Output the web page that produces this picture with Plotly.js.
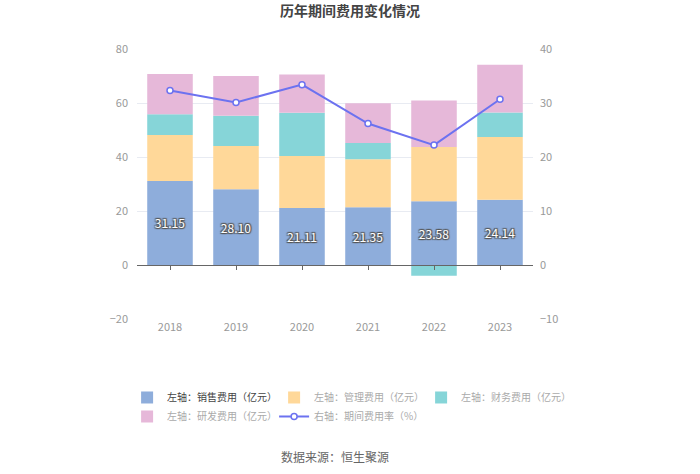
<!DOCTYPE html>
<html><head><meta charset="utf-8">
<script src="https://cdn.plot.ly/plotly-3.0.1.min.js"></script>
<style>html,body{margin:0;padding:0;background:#fff}</style>
</head><body>
<div id="chart" style="width:700px;height:474px"></div>
<script>
const years = ["2018","2019","2020","2021","2022","2023"];
const sales = [31.15, 28.10, 21.11, 21.35, 23.58, 24.14];
const mgmt = [17.0, 16.0, 19.3, 17.8, 20.1, 23.3];
const fin = [7.7, 11.2, 16.0, 6.0, -4.0, 9.0];
const rd = [14.9, 14.7, 14.1, 14.8, 17.2, 17.7];
const rate = [32.3, 30.1, 33.4, 26.2, 22.2, 30.7];
const names = ["左轴：销售费用（亿元）","左轴：管理费用（亿元）","左轴：财务费用（亿元）","左轴：研发费用（亿元）","右轴：期间费用率（%）"];

const font = "'Noto Sans CJK SC', 'Noto Sans', sans-serif";
const bw = 0.69;
const traces = [
  {type:'bar', x:years, y:sales, name:'<span style="color:#444">'+names[0]+'</span>', marker:{color:'#8eaddb'}, width:bw,
   text:sales.map(v=>v.toFixed(2)), textposition:'inside', insidetextanchor:'middle', constraintext:'none',
   textfont:{color:'#ffffff', size:12, family:font, shadow:'1px 1px 1px #555, -1px -1px 1px #555, 1px -1px 1px #555, -1px 1px 1px #555'}},
  {type:'bar', x:years, y:mgmt, name:names[1], marker:{color:'#ffd899'}, width:bw},
  {type:'bar', x:years, y:fin, name:names[2], marker:{color:'#86d5d8'}, width:bw},
  {type:'bar', x:years, y:rd, name:names[3], marker:{color:'#e6b8d9'}, width:bw},
  {type:'scatter', mode:'lines+markers', x:years, y:rate, name:names[4], yaxis:'y2',
   line:{color:'#6c72f0', width:2}, marker:{symbol:'circle', size:6, color:'#ffffff', line:{color:'#6c72f0', width:1.5}}}
];

const layout = {
  width:700, height:474,
  margin:{l:137, r:167, t:49, b:155},
  paper_bgcolor:'#fff', plot_bgcolor:'#fff',
  barmode:'relative', bargap:0.31,
  showlegend:true,
  hovermode:false,
  font:{family:font, color:'#999', size:11},
  title:{text:'<b>历年期间费用变化情况</b>', x:0.5, xanchor:'center', y:0.977, yanchor:'middle', font:{size:14, color:'#444', family:font}},
  xaxis:{type:'category', showgrid:false, zeroline:false, showline:false, ticks:'', tickfont:{color:'#999', size:11}, range:[-0.5,5.5]},
  xaxis2:{type:'category', overlaying:'x', anchor:'free', position:0.2, range:[-0.5,5.5], showgrid:false, zeroline:false,
          showline:true, linecolor:'#666', linewidth:1, ticks:'outside', ticklen:4, tickcolor:'#666', showticklabels:false, matches:'x'},
  yaxis:{range:[-20,80], dtick:20, showgrid:true, gridcolor:'#e8ebf2', zeroline:false, showline:false, ticks:'', tickfont:{color:'#999', size:11}, ticklabelstandoff:8},
  yaxis2:{range:[-10,40], dtick:10, overlaying:'y', side:'right', showgrid:false, zeroline:false, showline:false, tickfont:{color:'#999', size:11}, ticklabelstandoff:6},
  legend:{orientation:'h', x:-0.025, xanchor:'left', y:-0.237, yanchor:'top', entrywidth:102, font:{size:10, color:'#aaa', family:font}, itemwidth:30, traceorder:'normal', tracegroupgap:0},
  annotations:[{text:'数据来源：恒生聚源', xref:'paper', yref:'paper', x:0.5, y:-0.51, xanchor:'center', yanchor:'middle', showarrow:false, font:{size:12, color:'#666', family:font}}]
};
// helper trace so the zero-line x axis (with ticks) is drawn
traces.push({type:'scatter', x:years, y:sales.map(()=>null), xaxis:'x2', showlegend:false, hoverinfo:'skip'});
Plotly.newPlot('chart', traces, layout, {displayModeBar:false, staticPlot:true});
</script>
</body></html>
